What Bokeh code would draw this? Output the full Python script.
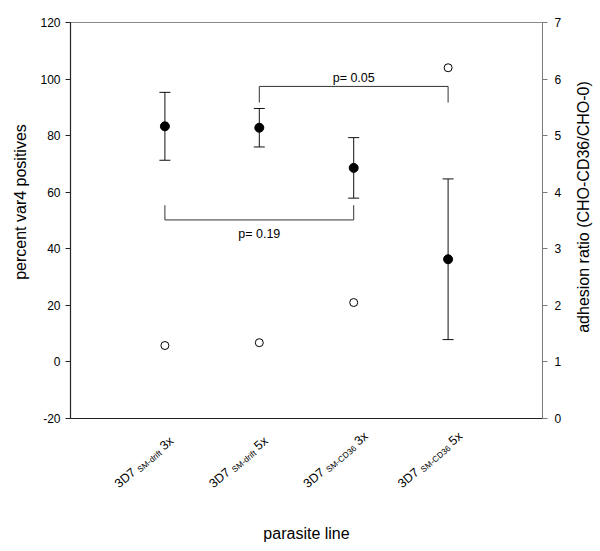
import math
from bokeh.plotting import figure
from bokeh.layouts import row, column
from bokeh.models import (Range1d, LinearAxis, FixedTicker, Whisker, TeeHead,
                          ColumnDataSource)
from bokeh.core.properties import value
from bokeh.embed import file_html
from bokeh.resources import INLINE

# ---------------- data ----------------
x_pos = [1, 2, 3, 4]
label_main = ["3D7", "3D7", "3D7", "3D7"]
label_sub = ["SM-drift", "SM-drift", "SM-CD36", "SM-CD36"]
label_suffix = ["3x", "5x", "3x", "5x"]
var4_mean = [83.3, 82.8, 68.6, 36.3]
var4_err = [12.0, 6.8, 10.7, 28.4]
adhesion_ratio = [1.29, 1.34, 2.05, 6.2]
left_ticks = [-20, 0, 20, 40, 60, 80, 100, 120]
right_ticks = [0, 1, 2, 3, 4, 5, 6, 7]
# significance brackets: (from category, to category, bar level, leg end, label y, text)
brackets = [
    (2, 4, 97.4, 91.7, 100.4, "p= 0.05"),
    (1, 3, 50.2, 55.4, 45.3, "p= 0.19"),
]
left_title = "percent var4 positives"
right_title = "adhesion ratio (CHO-CD36/CHO-0)"
bottom_title = "parasite line"

FONT = "Liberation Sans"
TOTAL_H = 551
LEFT_W, RIGHT_W = 30, 28
MAIN_BOTTOM = 10

xr = Range1d(0, 5)

# ---------------- main plot ----------------
p = figure(frame_width=472, frame_height=396, output_backend="svg",
           toolbar_location=None, x_range=xr, y_range=Range1d(-20, 120),
           min_border_left=40, min_border_right=30, min_border_top=22,
           min_border_bottom=MAIN_BOTTOM)
p.extra_y_ranges = {"ratio": Range1d(0, 7)}
p.xgrid.visible = False
p.ygrid.visible = False
p.outline_line_color = "#8a8a8a"
p.background_fill_color = "white"
p.border_fill_color = "white"

ya = p.yaxis[0]
ya.ticker = FixedTicker(ticks=left_ticks)
ya.major_label_overrides = {t: str(t) for t in left_ticks}
ya.major_label_text_font = FONT
ya.major_label_text_font_size = "12px"
ya.major_label_text_color = "black"
ya.major_label_standoff = 5
ya.major_tick_in = 0
ya.major_tick_out = 5
ya.minor_tick_line_color = None
ya.axis_line_color = "#222222"
ya.axis_line_width = 1.2
ya.major_tick_line_color = "#222222"

xa = p.xaxis[0]
xa.ticker = FixedTicker(ticks=[])
xa.major_tick_in = 0
xa.major_tick_out = 0
xa.major_label_standoff = 0
xa.major_tick_line_color = None
xa.minor_tick_line_color = None
xa.axis_line_color = "#222222"
xa.axis_line_width = 1.2

ra = LinearAxis(y_range_name="ratio", ticker=FixedTicker(ticks=right_ticks))
ra.major_label_text_font = FONT
ra.major_label_text_font_size = "12px"
ra.major_label_text_color = "black"
ra.major_label_standoff = 7
ra.major_tick_in = 0
ra.major_tick_out = 5
ra.minor_tick_line_color = None
ra.axis_line_color = "#7a7a7a"
ra.major_tick_line_color = "#7a7a7a"
p.add_layout(ra, "right")

src = ColumnDataSource(dict(
    x=x_pos, mean=var4_mean,
    upper=[m + e for m, e in zip(var4_mean, var4_err)],
    lower=[m - e for m, e in zip(var4_mean, var4_err)],
    ratio=adhesion_ratio))
w = Whisker(base="x", upper="upper", lower="lower", source=src, dimension="height",
            line_color="#111111", line_width=1,
            upper_head=TeeHead(size=11, line_color="#111111", line_width=1),
            lower_head=TeeHead(size=11, line_color="#111111", line_width=1))
p.add_layout(w)

p.scatter("x", "mean", source=src, marker="circle", size=9,
          fill_color="black", line_color="black")
p.scatter("x", "ratio", source=src, y_range_name="ratio", marker="circle", size=8,
          fill_color="white", line_color="black", line_width=1)

for a, b, level, leg, ty, txt in brackets:
    p.line([a, a, b, b], [leg, level, level, leg], line_color="#333333", line_width=1)
    p.text(x=[(a + b) / 2], y=[ty], text=[txt], text_font=value(FONT),
           text_font_size="12.5px", text_align="center",
           text_baseline="alphabetic", text_color="black")

# ---------------- category label strip ----------------
LAB_BOTTOM = 36
lab_frame_h = TOTAL_H - (22 + 396 + MAIN_BOTTOM) - LAB_BOTTOM
lab = figure(frame_width=472, frame_height=lab_frame_h, output_backend="svg",
             toolbar_location=None, x_range=xr, y_range=Range1d(0, 1),
             min_border_left=40, min_border_right=30, min_border_top=0,
             min_border_bottom=LAB_BOTTOM, y_axis_location=None)
lab.xgrid.visible = False
lab.ygrid.visible = False
lab.outline_line_color = None
lx = lab.xaxis[0]
lx.ticker = FixedTicker(ticks=[])
lx.major_tick_in = 0
lx.major_tick_out = 0
lx.major_label_standoff = 0
lx.axis_line_color = None
lx.major_tick_line_color = None
lx.minor_tick_line_color = None
lx.axis_label = bottom_title
lx.axis_label_text_font = FONT
lx.axis_label_text_font_size = "16px"
lx.axis_label_text_font_style = "normal"
lx.axis_label_text_color = "black"
lx.axis_label_standoff = 9

ADV = {'3': 556, 'D': 722, '7': 556, ' ': 278, 'S': 667, 'M': 833, '-': 333,
       'd': 556, 'r': 333, 'i': 222, 'f': 278, 't': 278, 'C': 722, '6': 556,
       'x': 500, '5': 556}

def tw(s, size):
    return sum(ADV.get(c, 556) for c in s) / 1000.0 * size

MAIN, SUB = 12.5, 8.3
ANG = math.radians(40)
ca, sa = math.cos(ANG), math.sin(ANG)
# start of each label: px from tick, measured from the frame bottom of the main plot
start_dx, start_dy = -48.4, 67.0
strip_dy = start_dy - MAIN_BOTTOM
sub_drop = 2.5

parts = {"main": dict(x=[], y=[], text=[], xo=[], yo=[]),
         "sub": dict(x=[], y=[], text=[], xo=[], yo=[])}

def place(kind, xc, text, s, drop):
    d = parts[kind]
    d["x"].append(xc)
    d["y"].append(1)
    d["text"].append(text)
    d["xo"].append(start_dx + s * ca + drop * sa)
    d["yo"].append(strip_dy - s * sa + drop * ca)

for xc, m, sb, sf in zip(x_pos, label_main, label_sub, label_suffix):
    s1 = tw(m + " ", MAIN)
    s2 = s1 + tw(sb, SUB) + tw(" ", MAIN)
    place("main", xc, m, 0.0, 0.0)
    place("sub", xc, sb, s1, sub_drop)
    place("main", xc, sf, s2, 0.0)

for kind, size in (("main", MAIN), ("sub", SUB)):
    lab.text(x="x", y="y", text="text", x_offset="xo", y_offset="yo",
             source=ColumnDataSource(parts[kind]), angle=ANG,
             text_font=value(FONT), text_font_size=f"{size}px",
             text_align="left", text_baseline="alphabetic", text_color="black")

# ---------------- side strips for the vertical axis titles ----------------
def side_strip(width, title, cx, cy):
    f = figure(width=width, height=TOTAL_H, output_backend="svg",
               toolbar_location=None, x_range=Range1d(0, width),
               y_range=Range1d(TOTAL_H, 0), min_border=0,
               x_axis_location=None, y_axis_location=None)
    f.xgrid.visible = False
    f.ygrid.visible = False
    f.outline_line_color = None
    f.text(x=[cx], y=[cy], text=[title], angle=math.pi / 2,
           text_font=value(FONT), text_font_size="16px", text_align="center",
           text_baseline="middle", text_color="black")
    return f

lfig = side_strip(LEFT_W, left_title, 20, 201.5)
rfig = side_strip(RIGHT_W, right_title, 583 - (600 - RIGHT_W), 206.5)

layout = row(lfig, column(p, lab), rfig)
open("out.html", "w").write(file_html(layout, INLINE))
